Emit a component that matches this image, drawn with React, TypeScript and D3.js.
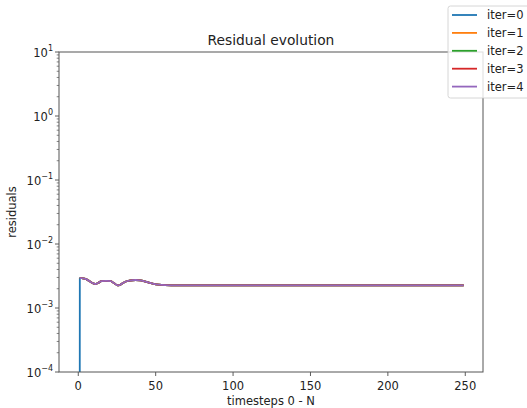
import { useEffect, useRef } from 'react';
import * as d3 from 'd3';

// timesteps (the flat tail is a straight run)
const steps = [1, 2, 4, 6, 8, 10, 11, 13, 15, 18, 21, 23, 25, 26, 28, 30, 33, 37, 40, 44, 48, 52, 56, 60, 249];
const residuals = [
  2.93e-3, 2.93e-3, 2.88e-3, 2.75e-3, 2.55e-3, 2.41e-3, 2.37e-3, 2.48e-3, 2.62e-3, 2.65e-3,
  2.62e-3, 2.45e-3, 2.28e-3, 2.25e-3, 2.38e-3, 2.55e-3, 2.68e-3, 2.74e-3, 2.71e-3, 2.56e-3,
  2.41e-3, 2.31e-3, 2.27e-3, 2.26e-3, 2.26e-3,
];
const iterNames = ['iter=0', 'iter=1', 'iter=2', 'iter=3', 'iter=4'];
const iterColors = ['#1f77b4', '#ff7f0e', '#2ca02c', '#d62728', '#9467bd'];
const xTicks = [0, 50, 100, 150, 200, 250];
const yExponents = [-4, -3, -2, -1, 0, 1];

const W = 527;
const H = 408;

const App = () => {
  const svgRef = useRef<SVGSVGElement>(null);

  useEffect(() => {
    const svg = d3.select(svgRef.current);
    svg.selectAll('*').remove();

    const left = 59, right = 483, top = 52, bottom = 372;
    const x = d3.scaleLinear().domain([-12.45, 261.45]).range([left, right]);
    const y = d3.scaleLog().domain([1e-4, 10]).range([bottom, top]);

    svg.append('defs').append('clipPath').attr('id', 'plotclip')
      .append('rect').attr('x', left).attr('y', top).attr('width', right - left).attr('height', bottom - top);

    // series: iter=0 has a zero at t=0 which drops off the log axis
    const series = iterNames.map((name, i) => {
      const pts = steps.map((t, k) => ({ t, v: residuals[k] }));
      if (i === 0) pts.unshift({ t: 0.4, v: 1e-30 });
      return { name, color: iterColors[i], pts };
    });

    const line = d3.line<{ t: number; v: number }>()
      .x(d => x(d.t))
      .y(d => y(d.v))
      .curve(d3.curveMonotoneX);

    const plot = svg.append('g').attr('clip-path', 'url(#plotclip)');
    series.forEach(s => {
      plot.append('path')
        .attr('d', line(s.pts) || '')
        .attr('fill', 'none')
        .attr('stroke', s.color)
        .attr('stroke-width', 1.8)
        .attr('stroke-linejoin', 'round');
    });

    const font = '"DejaVu Sans", sans-serif';
    const fs = 11.5;

    // x ticks
    const xg = svg.append('g');
    xTicks.forEach(t => {
      xg.append('line').attr('x1', x(t)).attr('x2', x(t)).attr('y1', bottom).attr('y2', bottom + 4)
        .attr('stroke', '#333').attr('stroke-width', 0.8);
      xg.append('text').attr('x', x(t)).attr('y', bottom + 18).attr('text-anchor', 'middle')
        .attr('font-family', font).attr('font-size', fs).attr('fill', '#222').text(t);
    });

    // y ticks (major + minor)
    const yg = svg.append('g');
    yExponents.forEach(e => {
      const v = Math.pow(10, e);
      yg.append('line').attr('x1', left - 4).attr('x2', left).attr('y1', y(v)).attr('y2', y(v))
        .attr('stroke', '#333').attr('stroke-width', 0.8);
      const txt = yg.append('text').attr('x', left - 6).attr('y', y(v) + 4.5).attr('text-anchor', 'end')
        .attr('font-family', font).attr('font-size', fs).attr('fill', '#222');
      txt.append('tspan').text('10');
      txt.append('tspan').attr('dy', -5.5).attr('font-size', 8).text(e < 0 ? '\u2212' + Math.abs(e) : String(e));
      if (e < 1) {
        for (let m = 2; m <= 9; m++) {
          const mv = m * v;
          yg.append('line').attr('x1', left - 2.3).attr('x2', left).attr('y1', y(mv)).attr('y2', y(mv))
            .attr('stroke', '#333').attr('stroke-width', 0.6);
        }
      }
    });

    // spines
    svg.append('rect').attr('x', left).attr('y', top).attr('width', right - left).attr('height', bottom - top)
      .attr('fill', 'none').attr('stroke', '#555').attr('stroke-width', 1);

    // labels
    svg.append('text').attr('x', (left + right) / 2).attr('y', 45).attr('text-anchor', 'middle')
      .attr('font-family', font).attr('font-size', 13.8).attr('fill', '#222').text('Residual evolution');
    svg.append('text').attr('x', (left + right) / 2).attr('y', 405).attr('text-anchor', 'middle')
      .attr('font-family', font).attr('font-size', fs).attr('fill', '#222').text('timesteps 0 - N');
    svg.append('text').attr('transform', `translate(16,${(top + bottom) / 2}) rotate(-90)`)
      .attr('text-anchor', 'middle').attr('font-family', font).attr('font-size', fs).attr('fill', '#222')
      .text('residuals');

    // legend
    const lg = svg.append('g');
    lg.append('rect').attr('x', 448).attr('y', 6).attr('width', 100).attr('height', 92).attr('rx', 2.5)
      .attr('fill', 'white').attr('fill-opacity', 0.8).attr('stroke', '#ccc').attr('stroke-width', 0.8);
    iterNames.forEach((n, i) => {
      const ry = 15 + i * 17.9;
      lg.append('line').attr('x1', 452).attr('x2', 477).attr('y1', ry).attr('y2', ry)
        .attr('stroke', iterColors[i]).attr('stroke-width', 1.8);
      lg.append('text').attr('x', 487).attr('y', ry + 4).attr('font-family', font).attr('font-size', fs)
        .attr('fill', '#222').text(n);
    });
  }, []);

  return (
    <svg ref={svgRef} width={W} height={H}
      style={{ position: 'absolute', left: 0, top: 0, display: 'block', background: 'white' }} />
  );
};

export default App;
